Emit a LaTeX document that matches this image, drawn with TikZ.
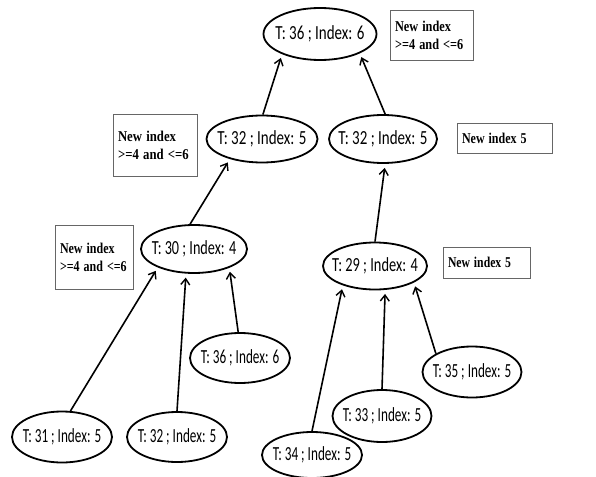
\documentclass[tikz,border=0pt]{standalone}
\usepackage{fontspec}
\setmainfont{Carlito}
\newfontfamily\boxfont{Liberation Serif}
\usetikzlibrary{shapes.geometric,arrows.meta}
\begin{document}
\begin{tikzpicture}[x=1pt,y=-1pt,
 tnode/.style={ellipse,draw,line width=1.8pt,inner sep=0pt},
 tlab/.style={label={[font=\fontsize{20}{24}\selectfont,inner sep=0pt]center:#1}},
 nbox/.style={draw=black!60,line width=0.9pt,inner ysep=0pt,inner xsep=5pt,align=left,
   font=\boxfont\bfseries\fontsize{15}{17}\selectfont},
 edge/.style={line width=1.6pt,shorten >=4pt,-{Straight Barb[length=6pt,width=9pt,line width=1.4pt]}}]
\useasboundingbox[fill=white] (0,0) rectangle (596,476);
% tree nodes
\node[tnode,minimum width=113pt,minimum height=52pt,tlab={\scalebox{0.75}[1]{T: 36 ; Index: 6}}] (root) at (320,34) {};
\node[tnode,minimum width=111pt,minimum height=47pt,tlab={\scalebox{0.75}[1]{T: 32 ; Index: 5}}] (l2a) at (262,139) {};
\node[tnode,minimum width=108pt,minimum height=48pt,tlab={\scalebox{0.75}[1]{T: 32 ; Index: 5}}] (l2b) at (383,139) {};
\node[tnode,minimum width=106pt,minimum height=48pt,tlab={\scalebox{0.71}[1]{T: 30 ; Index: 4}}] (t30) at (194,249) {};
\node[tnode,minimum width=104pt,minimum height=47pt,tlab={\scalebox{0.72}[1]{T: 29 ; Index: 4}}] (t29) at (375,266) {};
\node[tnode,minimum width=100pt,minimum height=50pt,tlab={\scalebox{0.66}[1]{T: 36 ; Index: 6}}] (t36) at (240,358) {};
\node[tnode,minimum width=100pt,minimum height=51pt,tlab={\scalebox{0.66}[1]{T: 31 ; Index: 5}}] (t31) at (62,437) {};
\node[tnode,minimum width=100pt,minimum height=50pt,tlab={\scalebox{0.66}[1]{T: 32 ; Index: 5}}] (t32) at (177,437) {};
\node[tnode,minimum width=100pt,minimum height=46pt,tlab={\scalebox{0.66}[1]{T: 34 ; Index: 5}}] (t34) at (312,455) {};
\node[tnode,minimum width=99pt,minimum height=52pt,tlab={\scalebox{0.66}[1]{T: 33 ; Index: 5}}] (t33) at (382,416) {};
\node[tnode,minimum width=99pt,minimum height=51pt,tlab={\scalebox{0.66}[1]{T: 35 ; Index: 5}}] (t35) at (472,372) {};
% note boxes
\node[nbox,text width=73pt,minimum height=50pt] (b1) at (431.5,35) {\scalebox{0.82}[1]{New index}\\[1pt]\scalebox{0.82}[1]{>=4 and <=6}};
\node[nbox,text width=74pt,minimum height=62pt] (b2) at (155,145) {\scalebox{0.85}[1]{New index}\\[1pt]\scalebox{0.85}[1]{>=4 and <=6}};
\node[nbox,text width=85pt,minimum height=30pt] (b3) at (504.5,138) {\scalebox{0.8}[1]{New index 5}};
\node[nbox,text width=68pt,minimum height=64pt] (b4) at (94,257) {\scalebox{0.8}[1]{New index}\\[1pt]\scalebox{0.8}[1]{>=4 and <=6}};
\node[nbox,text width=77pt,minimum height=31pt] (b5) at (486.5,262.5) {\scalebox{0.78}[1]{New index 5}};
% edges (child -> parent)
\draw[edge] (l2a.88) -- (root.208);
\draw[edge] (l2b.85) -- (root.334);
\draw[edge] (t30.99) -- (l2a.212);
\draw[edge] (t29.90) -- (l2b.275);
\draw[edge] (t31.72) -- (t30.207);
\draw[edge] (t32.90) -- (t30.252);
\draw[edge] (t36.94) -- (t30.332);
\draw[edge] (t34.90) -- (t29.211);
\draw[edge] (t33.90) -- (t29.293);
\draw[edge] (t35.153) -- (t29.337);
\end{tikzpicture}
\end{document}
